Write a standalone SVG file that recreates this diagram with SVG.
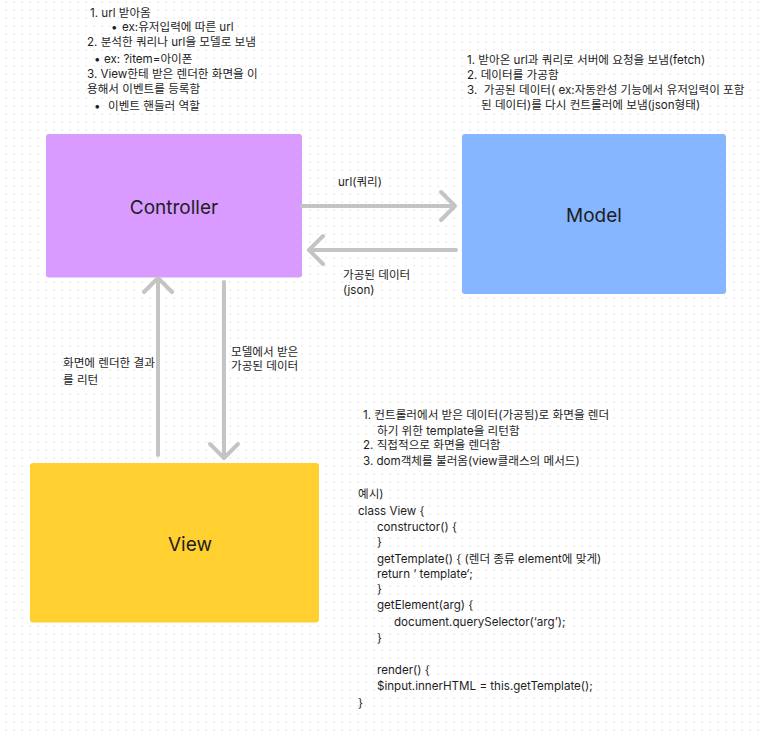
<svg xmlns="http://www.w3.org/2000/svg" width="763" height="736" viewBox="0 0 763 736">
<style>
text{font-family:Inter,"Noto Sans CJK KR","Noto Sans",sans-serif;fill:#1e1e1e}
.n{font-size:11.6px}
.lbl{font-size:19px;text-anchor:middle}
.ln{stroke:#c4c4c4;stroke-width:4;fill:none;stroke-linecap:round;stroke-linejoin:round}
</style>
<defs>
<pattern id="dots" x="0" y="0" width="8" height="8" patternUnits="userSpaceOnUse">
<circle cx="6" cy="2" r="1" fill="#eeeeee"/>
</pattern>
</defs>
<rect width="763" height="736" fill="#ffffff"/>
<rect width="763" height="736" fill="url(#dots)"/>

<g id="controller">
<rect x="46" y="134" width="256" height="143.5" rx="3" fill="#d99bff"/>
<text class="lbl" x="174" y="214">Controller</text>
</g>
<g id="model">
<rect x="462" y="134" width="264" height="160" rx="3" fill="#85b6ff"/>
<text class="lbl" x="594" y="222">Model</text>
</g>
<g id="view">
<rect x="30" y="463" width="289" height="159.5" rx="3" fill="#ffd02f"/>
<text class="lbl" x="190" y="551">View</text>
</g>

<g id="connectors">
<g id="c-controller-model">
<line class="ln" x1="302" y1="206" x2="454" y2="206"/>
<polyline class="ln" points="441,192 455,206 441,220"/>
<text class="n" x="338" y="186">url(쿼리)</text>
</g>
<g id="c-model-controller">
<line class="ln" x1="456" y1="250" x2="311" y2="250"/>
<polyline class="ln" points="323,236 309,250 323,264"/>
<text class="n" x="343" y="279">가공된 데이터</text>
<text class="n" x="343" y="294">(json)</text>
</g>
<g id="c-view-controller">
<line class="ln" x1="158" y1="455" x2="158" y2="280"/>
<polyline class="ln" points="144,292 158,278 172,292"/>
<text class="n" x="63" y="367">화면에 렌더한 결과</text>
<text class="n" x="63" y="384">를 리턴</text>
</g>
<g id="c-controller-view">
<line class="ln" x1="224" y1="282" x2="224" y2="456"/>
<polyline class="ln" points="210,444 224,458 238,444"/>
<text class="n" x="231" y="355.5">모델에서 받은</text>
<text class="n" x="231" y="370">가공된 데이터</text>
</g>
</g>

<g id="note-controller">
<text class="n" x="90" y="16.5">1. url 받아옴</text>
<text class="n" x="111" y="31">•</text>
<text class="n" x="122" y="31">ex:유저입력에 따른 url</text>
<text class="n" x="87" y="46">2. 분석한 쿼리나 url을 모델로 보냄</text>
<text class="n" x="94" y="63">•</text>
<text class="n" x="104" y="63">ex: ?item=아이폰</text>
<text class="n" x="87" y="78">3. View한테 받은 렌더한 화면을 이</text>
<text class="n" x="87" y="93">용해서 이벤트를 등록함</text>
<text class="n" x="94" y="110">•</text>
<text class="n" x="108" y="110">이벤트 핸들러 역할</text>
</g>

<g id="note-model">
<text class="n" x="467" y="64">1. 받아온 url과 쿼리로 서버에 요청을 보냄(fetch)</text>
<text class="n" x="467" y="79">2. 데이터를 가공함</text>
<text class="n" x="467" y="94">3.&#160; 가공된 데이터( ex:자동완성 기능에서 유저입력이 포함</text>
<text class="n" x="481" y="109">된 데이터)를 다시 컨트롤러에 보냄(json형태)</text>
</g>

<g id="note-view">
<text class="n" x="363" y="419">1. 컨트롤러에서 받은 데이터(가공됨)로 화면을 렌더</text>
<text class="n" x="377" y="434.5">하기 위한 template을 리턴함</text>
<text class="n" x="363" y="449">2. 직접적으로 화면을 렌더함</text>
<text class="n" x="363" y="465">3. dom객체를 불러옴(view클래스의 메서드)</text>
<text class="n" x="358" y="498">예시)</text>
<text class="n" x="358" y="514.5">class View {</text>
<text class="n" x="377" y="530.5">constructor() {</text>
<text class="n" x="377" y="546">}</text>
<text class="n" x="377" y="563">getTemplate() { (렌더 종류 element에 맞게)</text>
<text class="n" x="377" y="578">return ‘ template‘;</text>
<text class="n" x="377" y="593">}</text>
<text class="n" x="377" y="609">getElement(arg) {</text>
<text class="n" x="394" y="625.5">document.querySelector(‘arg’);</text>
<text class="n" x="377" y="642">}</text>
<text class="n" x="377" y="674">render() {</text>
<text class="n" x="377" y="690">$input.innerHTML = this.getTemplate();</text>
<text class="n" x="358" y="706.5">}</text>
</g>
</svg>
